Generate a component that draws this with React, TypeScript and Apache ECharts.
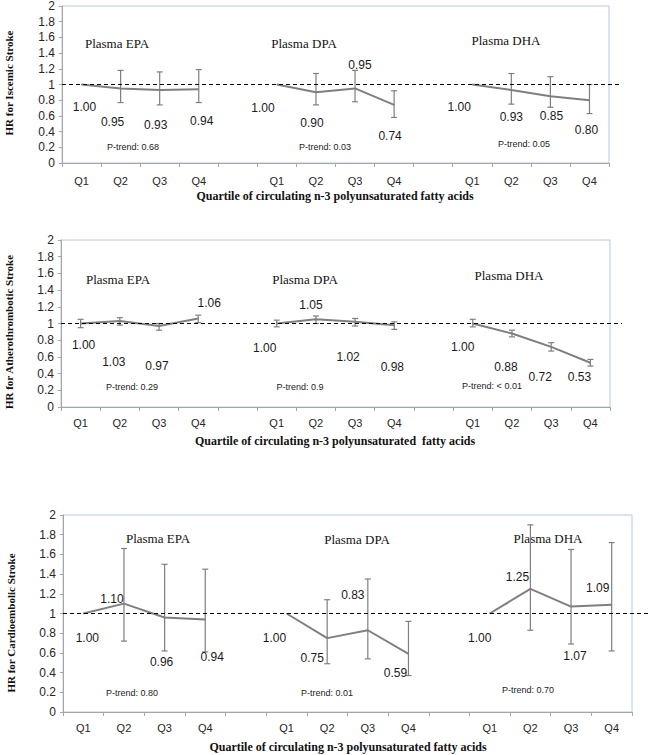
import React, { useEffect, useRef } from "react";
import * as echarts from "echarts";

// ---------- data ----------
const quartiles = ["Q1", "Q2", "Q3", "Q4"];
const categories = [...quartiles, "", ...quartiles, "", ...quartiles];
const acidTitles = ["Plasma EPA", "Plasma DPA", "Plasma DHA"];
const yTicks = [0, 0.2, 0.4, 0.6, 0.8, 1, 1.2, 1.4, 1.6, 1.8, 2];

const ischemicHR = [[1.0, 0.95, 0.93, 0.94], [1.0, 0.9, 0.95, 0.74], [1.0, 0.93, 0.85, 0.8]];
const ischemicLow = [[null, 0.77, 0.74, 0.77], [null, 0.74, 0.78, 0.58], [null, 0.75, 0.71, 0.63]];
const ischemicHigh = [[null, 1.18, 1.16, 1.19], [null, 1.14, 1.18, 0.92], [null, 1.14, 1.1, 1.0]];
const ischemicPTrend = ["P-trend: 0.68", "P-trend: 0.03", "P-trend: 0.05"];

const atheroHR = [[1.0, 1.03, 0.97, 1.06], [1.0, 1.05, 1.02, 0.98], [1.0, 0.88, 0.72, 0.53]];
const atheroLow = [[0.95, 0.98, 0.92, 1.01], [0.96, 1.0, 0.97, 0.93], [0.96, 0.84, 0.67, 0.49]];
const atheroHigh = [[1.05, 1.07, 1.0, 1.1], [1.04, 1.09, 1.06, 1.02], [1.05, 0.92, 0.77, 0.57]];
const atheroPTrend = ["P-trend: 0.29", "P-trend: 0.9", "P-trend: < 0.01"];

const cardioHR = [[1.0, 1.1, 0.96, 0.94], [1.0, 0.75, 0.83, 0.59], [1.0, 1.25, 1.07, 1.09]];
const cardioLow = [[null, 0.72, 0.62, 0.61], [null, 0.49, 0.54, 0.37], [null, 0.83, 0.69, 0.62]];
const cardioHigh = [[null, 1.66, 1.5, 1.45], [null, 1.14, 1.35, 0.92], [null, 1.9, 1.65, 1.72]];
const cardioPTrend = ["P-trend: 0.80", "P-trend: 0.01", "P-trend: 0.70"];

const yTitles = ["HR for Iscemic Stroke", "HR for Atherothrombotic Stroke", "HR for Cardioembolic Stroke"];
const xTitles = [
  "Quartile of circulating n-3 polyunsaturated fatty acids",
  "Quartile of circulating n-3 polyunsaturated  fatty acids",
  "Quartile of circulating n-3 polyunsaturated fatty acids",
];

// ---------- layout ----------
const panels = [
  {
    hr: ischemicHR, low: ischemicLow, high: ischemicHigh, ptrend: ischemicPTrend,
    grid: { left: 62, top: 6, width: 547, height: 157 }, labelMargin: 12,
    offsets: [[[3, 22], [-8, 34], [-4, 35], [3, 32]], [[-14, 23], [-4, 31], [5, -23], [-4, 31]], [[-13, 22], [0, 27], [1, 20], [-3, 30]]],
    titlePos: [[117, 43], [304, 43], [506, 40]],
    pPos: [[133, 147], [325, 147], [524, 144]],
    yTitlePos: [9, 83], xTitlePos: [335, 196], dashEnd: 620,
  },
  {
    hr: atheroHR, low: atheroLow, high: atheroHigh, ptrend: atheroPTrend,
    grid: { left: 61, top: 240, width: 549, height: 167 }, labelMargin: 10,
    offsets: [[[3, 21], [-6, 41], [-2, 40], [11, -15]], [[-12, 24], [-5, -14], [-7, 35], [-2, 42]], [[-10, 23], [-6, 33], [-11, 30], [-11, 14]]],
    titlePos: [[118, 279], [305, 279], [509, 275]],
    pPos: [[132, 387], [300, 387], [492, 386]],
    yTitlePos: [9, 332], xTitlePos: [335, 441], dashEnd: 622,
  },
  {
    hr: cardioHR, low: cardioLow, high: cardioHigh, ptrend: cardioPTrend,
    grid: { left: 63, top: 515, width: 569, height: 197 }, labelMargin: 10,
    offsets: [[[4, 24], [-12, -5], [-3, 45], [7, 38]], [[-12, 24], [-15, 20], [-15, -35], [-13, 19]], [[-10, 24], [-13, -12], [4, 49], [-14, -17]]],
    titlePos: [[158, 538], [357, 539], [548, 538]],
    pPos: [[132, 693], [327, 693], [528, 690]],
    yTitlePos: [11, 623], xTitlePos: [348, 747], dashEnd: 648,
  },
];

const LINE = "#7f7f7f";
const SANS = "'Liberation Sans', Arial, sans-serif";
const SERIF = "'Liberation Serif', 'Times New Roman', serif";

export default function App() {
  const ref = useRef<HTMLDivElement>(null);
  useEffect(() => {
    if (!ref.current) return;
    const chart = echarts.init(ref.current, null, { renderer: "svg" });

    const grids: any[] = [];
    const xAxes: any[] = [];
    const yAxes: any[] = [];
    const series: any[] = [];
    const staticGraphics: any[] = [];

    panels.forEach((p, pi) => {
      grids.push({ ...p.grid, show: true, borderColor: "#b7c8e6", borderWidth: 1, backgroundColor: "transparent" });
      xAxes.push({
        type: "category", gridIndex: pi, data: categories, boundaryGap: true,
        axisLine: { show: true, lineStyle: { color: "#a6a6a6", width: 1 } },
        axisTick: { show: true, length: 4, alignWithLabel: false, interval: 0, lineStyle: { color: "#a6a6a6" } },
        axisLabel: { interval: 0, margin: p.labelMargin, fontFamily: SANS, fontSize: 11, color: "#262626" },
        splitLine: { show: false },
      });
      yAxes.push({
        type: "value", gridIndex: pi, min: 0, max: 2, interval: 0.2,
        axisLine: { show: true, lineStyle: { color: "#a6a6a6", width: 1 } },
        axisTick: { show: true, length: 3, lineStyle: { color: "#a6a6a6" } },
        axisLabel: { margin: 7, fontFamily: SANS, fontSize: 12, color: "#262626", formatter: (v: number) => String(Math.round(v * 10) / 10) },
        splitLine: { show: false },
      });

      const errData: any[] = [];
      p.hr.forEach((vals, a) => {
        const data: any[] = categories.map(() => "-");
        vals.forEach((v, q) => {
          const idx = a * 5 + q;
          data[idx] = {
            value: v,
            label: {
              show: true, position: "inside", offset: p.offsets[a][q],
              formatter: v.toFixed(2), fontFamily: SANS, fontSize: 12, color: "#1a1a1a",
              align: "center", verticalAlign: "middle",
            },
          };
          const lo = p.low[a][q];
          const hi = p.high[a][q];
          if (lo != null && hi != null) errData.push([idx, lo, hi]);
        });
        series.push({
          type: "line", xAxisIndex: pi, yAxisIndex: pi, data,
          connectNulls: false, symbol: "circle", symbolSize: 1, showSymbol: true,
          itemStyle: { color: LINE }, lineStyle: { color: LINE, width: 2 },
          z: 3,
        });
      });
      series.push({
        type: "custom", xAxisIndex: pi, yAxisIndex: pi, data: errData,
        encode: { x: 0, y: [1, 2] }, z: 2,
        renderItem: (params: any, api: any) => {
          const x = api.value(0);
          const lo = api.coord([x, api.value(1)]);
          const hi = api.coord([x, api.value(2)]);
          const w = 3;
          const st = { stroke: LINE, lineWidth: 1.2 };
          return {
            type: "group",
            children: [
              { type: "line", shape: { x1: lo[0], y1: lo[1], x2: hi[0], y2: hi[1] }, style: st },
              { type: "line", shape: { x1: lo[0] - w, y1: lo[1], x2: lo[0] + w, y2: lo[1] }, style: st },
              { type: "line", shape: { x1: hi[0] - w, y1: hi[1], x2: hi[0] + w, y2: hi[1] }, style: st },
            ],
          };
        },
      });

      acidTitles.forEach((t, a) => {
        staticGraphics.push({
          type: "text", x: p.titlePos[a][0], y: p.titlePos[a][1],
          style: { text: t, font: `13px ${SERIF}`, fill: "#111", align: "center", verticalAlign: "middle" },
        });
        staticGraphics.push({
          type: "text", x: p.pPos[a][0], y: p.pPos[a][1],
          style: { text: p.ptrend[a], font: `9px ${SANS}`, fill: "#222", align: "center", verticalAlign: "middle" },
        });
      });
      staticGraphics.push({
        type: "text", x: p.yTitlePos[0], y: p.yTitlePos[1], rotation: Math.PI / 2,
        style: { text: yTitles[pi], font: `bold 11px ${SERIF}`, fill: "#111", align: "center", verticalAlign: "middle" },
      });
      staticGraphics.push({
        type: "text", x: p.xTitlePos[0], y: p.xTitlePos[1],
        style: { text: xTitles[pi], font: `bold 12px ${SERIF}`, fill: "#111", align: "center", verticalAlign: "middle" },
      });
    });

    chart.setOption({
      animation: false,
      grid: grids,
      xAxis: xAxes,
      yAxis: yAxes,
      series,
    });

    const dashed = panels.map((p, pi) => {
      const y = chart.convertToPixel({ yAxisIndex: pi } as any, 1) as number;
      return {
        type: "line", z: 10,
        shape: { x1: p.grid.left, y1: y, x2: p.dashEnd, y2: y },
        style: { stroke: "#000", lineWidth: 1.2, lineDash: [4, 3] },
      };
    });
    chart.setOption({ graphic: [...staticGraphics, ...dashed] });

    return () => chart.dispose();
  }, []);

  return <div ref={ref} style={{ position: "absolute", left: 0, top: 0, width: 649, height: 755, background: "#fff" }} />;
}
